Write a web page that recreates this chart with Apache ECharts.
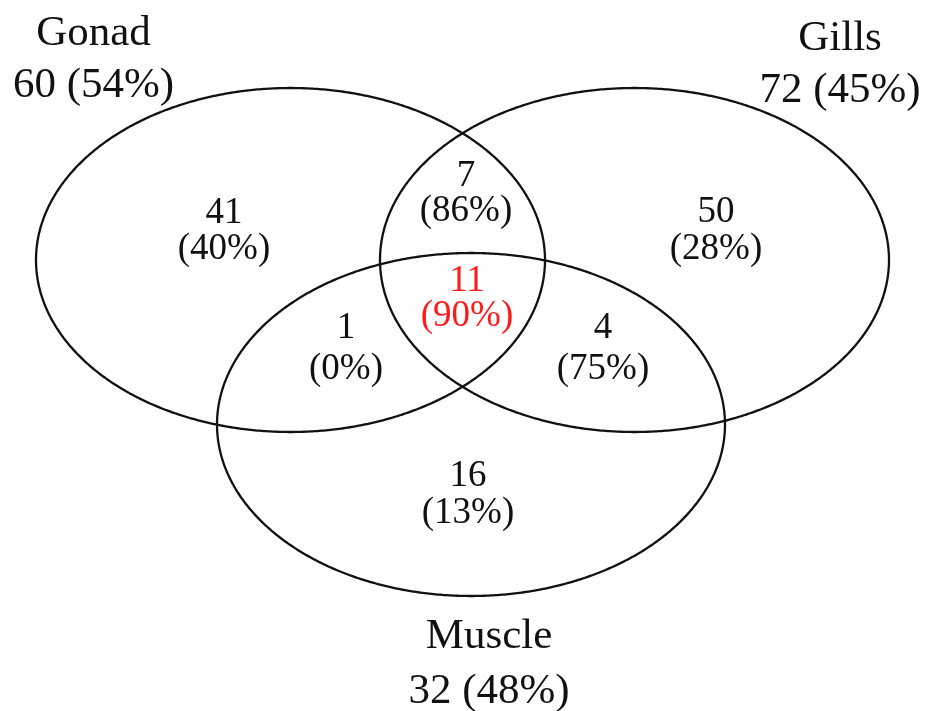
<!DOCTYPE html>
<html><head><meta charset="utf-8">
<script src="https://cdn.jsdelivr.net/npm/echarts@6/dist/echarts.min.js"></script>
<style>html,body{margin:0;padding:0;background:#fff}#c{width:926px;height:711px}</style>
</head><body><div id="c"></div>
<script>
// ---- data ----
const setNames = ['Gonad', 'Gills', 'Muscle'];
const setTotals = [60, 72, 32];
const setPercents = [54, 45, 48];
const regionNames = ['Gonad only', 'Gills only', 'Muscle only', 'Gonad & Gills', 'Gonad & Muscle', 'Gills & Muscle', 'All three'];
const regionCounts = [41, 50, 16, 7, 1, 4, 11];
const regionPercents = [40, 28, 13, 86, 0, 75, 90];

// ---- layout (axis units, axes span the canvas) ----
const ellipseLayout = [[290.5, 260, 254.5, 172], [634.5, 260, 254.5, 172], [471, 424.5, 254, 171.5]];
const setLabelLayout = [[93.5, 34, 52], [840, 39, 52], [489, 637, 55]];       // x, y of name, gap to count line
const regionLabelLayout = [[224, 213, 36], [716, 212, 37], [468, 476, 37], [466, 176, 35], [346, 328, 41], [603, 328, 41], [467, 281, 35]];

// ---- styles ----
const regionColors = ['#111', '#111', '#111', '#111', '#111', '#111', '#ff1a1a'];
const FONT = '"Liberation Serif", "DejaVu Serif", serif';

const textRows = [];
setNames.forEach((n, i) => {
  const L = setLabelLayout[i];
  textRows.push({ value: [L[0], L[1]], text: n, size: 43, color: '#111' });
  textRows.push({ value: [L[0], L[1] + L[2]], text: setTotals[i] + ' (' + setPercents[i] + '%)', size: 43, color: '#111' });
});
regionCounts.forEach((c, i) => {
  const L = regionLabelLayout[i];
  textRows.push({ value: [L[0], L[1]], text: String(c), size: 37, color: regionColors[i] });
  textRows.push({ value: [L[0], L[1] + L[2]], text: '(' + regionPercents[i] + '%)', size: 37, color: regionColors[i] });
});

const chart = echarts.init(document.getElementById('c'));
chart.setOption({
  animation: false,
  backgroundColor: '#fff',
  grid: { left: 0, right: 0, top: 0, bottom: 0 },
  xAxis: { type: 'value', min: 0, max: 926, show: false },
  yAxis: { type: 'value', min: 0, max: 711, inverse: true, show: false },
  series: [
    {
      type: 'custom',
      name: 'sets',
      data: ellipseLayout.map((e, i) => ({ name: setNames[i], value: e })),
      encode: { x: 0, y: 1 },
      renderItem: function (params, api) {
        const cx = api.value(0), cy = api.value(1), rx = api.value(2), ry = api.value(3);
        const pts = [];
        const N = 720;
        for (let k = 0; k < N; k++) {
          const t = k / N * Math.PI * 2;
          pts.push(api.coord([cx + rx * Math.cos(t), cy + ry * Math.sin(t)]));
        }
        return { type: 'polygon', shape: { points: pts }, style: { fill: 'none', stroke: '#111', lineWidth: 2.3 } };
      }
    },
    {
      type: 'custom',
      name: 'labels',
      data: textRows.map(r => ({ value: r.value })),
      encode: { x: 0, y: 1 },
      renderItem: function (params, api) {
        const r = textRows[params.dataIndex];
        const p = api.coord([api.value(0), api.value(1)]);
        return {
          type: 'text', x: p[0], y: p[1],
          style: { text: r.text, fill: r.color, font: r.size + 'px ' + FONT, align: 'center', verticalAlign: 'middle' }
        };
      }
    }
  ]
});
</script></body></html>
